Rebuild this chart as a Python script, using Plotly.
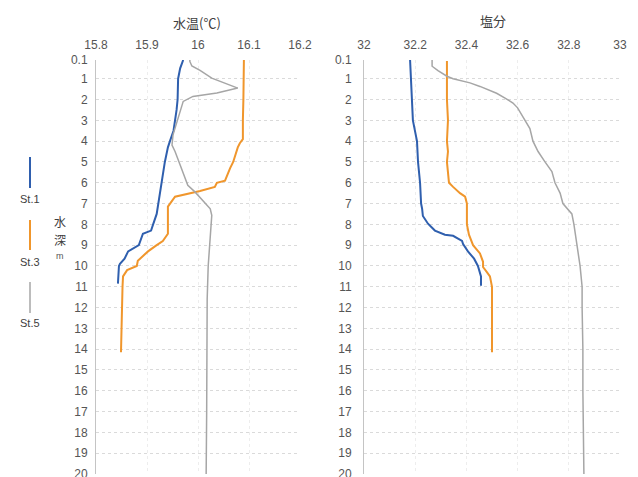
import plotly.graph_objects as go

# ---- depth profiles (m) ----
# Water temperature (deg C)
st1_temp_depth = [0.1, 0.5, 1, 2, 2.5, 3, 3.5, 4, 4.3, 5, 6, 7, 7.5, 8, 8.3, 8.45,
                  9, 9.3, 9.65, 9.9, 10, 10.85]
st1_temp = [15.971, 15.965, 15.961, 15.960, 15.958, 15.955, 15.952, 15.945, 15.941,
            15.935, 15.929, 15.922, 15.919, 15.912, 15.908, 15.892, 15.884, 15.863,
            15.856, 15.847, 15.845, 15.843]

st3_temp_depth = [0.1, 1, 2, 3, 3.9, 4.1, 4.3, 5, 5.3, 5.9, 6.0, 6.2, 6.4, 6.67, 6.8,
                  7.05, 7.15, 8.45, 8.8, 9.0, 9.3, 9.75, 10.0, 10.2, 10.5, 11, 12, 13, 14.15]
st3_temp = [16.090, 16.090, 16.089, 16.088, 16.088, 16.082, 16.078, 16.069, 16.063,
            16.053, 16.037, 16.033, 16.004, 15.955, 15.951, 15.945, 15.941, 15.941,
            15.931, 15.919, 15.902, 15.882, 15.880, 15.861, 15.853, 15.852, 15.851,
            15.849, 15.849]

st5_temp_depth = [0.1, 0.17, 0.39, 0.6, 0.97, 1.13, 1.32, 1.45, 1.69, 1.85, 2.09, 2.25,
                  2.98, 3.7, 4.19, 4.5, 5.15, 5.8, 6.12, 6.44, 6.9, 7.25, 7.57, 8.2,
                  9.3, 10, 11.6, 14, 17, 20]
st5_temp = [15.984, 15.984, 15.988, 16.004, 16.027, 16.043, 16.063, 16.078, 16.037,
            15.990, 15.971, 15.969, 15.959, 15.951, 15.949, 15.955, 15.965, 15.975,
            15.980, 15.994, 16.010, 16.024, 16.027, 16.025, 16.022, 16.020, 16.018,
            16.017, 16.017, 16.016]

# Salinity
st1_sal_depth = [0.1, 1, 2, 3, 4, 5, 6, 7, 7.25, 7.6, 7.97, 8.3, 8.5, 8.55, 8.8, 8.95,
                 9.3, 9.65, 10, 10.5, 10.95]
st1_sal = [32.180, 32.184, 32.188, 32.191, 32.207, 32.211, 32.219, 32.223, 32.227,
           32.230, 32.250, 32.277, 32.316, 32.348, 32.383, 32.387, 32.406, 32.430,
           32.445, 32.457, 32.457]

st3_sal_depth = [0.15, 1, 2, 3, 4, 4.5, 5, 5.5, 6, 6.2, 6.5, 6.67, 7, 8, 8.5, 9, 9.4,
                 9.8, 10.05, 10.3, 10.5, 11, 12, 13, 14.15]
st3_sal = [32.324, 32.324, 32.324, 32.328, 32.324, 32.328, 32.324, 32.328, 32.332,
           32.348, 32.375, 32.395, 32.402, 32.402, 32.410, 32.426, 32.453, 32.465,
           32.465, 32.480, 32.492, 32.500, 32.500, 32.500, 32.500]

st5_sal_depth = [0.1, 0.4, 0.61, 0.88, 1.0, 1.2, 1.37, 1.7, 1.93, 2.17, 2.4, 3.0, 3.4,
                 4.0, 4.5, 5.0, 5.46, 6.0, 6.5, 7.0, 7.25, 7.5, 8.0, 9, 10, 11, 12, 14,
                 16, 20]
st5_sal = [32.266, 32.266, 32.289, 32.324, 32.348, 32.414, 32.453, 32.518, 32.551,
           32.582, 32.600, 32.629, 32.648, 32.660, 32.680, 32.707, 32.734, 32.746,
           32.766, 32.777, 32.793, 32.812, 32.820, 32.832, 32.844, 32.852, 32.852,
           32.855, 32.855, 32.859]

stations = ["St.1", "St.3", "St.5"]
depth_ticks = [0.1] + list(range(1, 21))
depth_tick_text = ["0.1"] + [str(d) for d in range(1, 21)]
temp_ticks = [15.8, 15.9, 16.0, 16.1, 16.2]
temp_tick_text = ["15.8", "15.9", "16", "16.1", "16.2"]
sal_ticks = [32.0, 32.2, 32.4, 32.6, 32.8, 33.0]
sal_tick_text = ["32", "32.2", "32.4", "32.6", "32.8", "33"]

# ---- styling ----
W, H = 638, 477
M_T, M_B = 60, 3
PLOT_H = H - M_T - M_B
COLORS = {"St.1": "#2f5fae", "St.3": "#f0962c", "St.5": "#a6a6a6"}
WIDTHS = {"St.1": 2.0, "St.3": 2.0, "St.5": 1.5}
NUM_FONT = "Liberation Sans, Arial, Noto Sans CJK JP, sans-serif"
JP_FONT = "Noto Sans CJK JP, sans-serif"
TICK_COLOR = "#555555"


def px_x(px):
    return px / W


def px_y(py):
    return (H - M_B - py) / PLOT_H


fig = go.Figure()

temp_series = {"St.1": (st1_temp, st1_temp_depth),
               "St.3": (st3_temp, st3_temp_depth),
               "St.5": (st5_temp, st5_temp_depth)}
sal_series = {"St.1": (st1_sal, st1_sal_depth),
              "St.3": (st3_sal, st3_sal_depth),
              "St.5": (st5_sal, st5_sal_depth)}

for name in stations:
    xs, ys = temp_series[name]
    fig.add_trace(go.Scatter(x=xs, y=ys, mode="lines", name=name,
                             line=dict(color=COLORS[name], width=WIDTHS[name]),
                             xaxis="x", yaxis="y", showlegend=False))
for name in stations:
    xs, ys = sal_series[name]
    fig.add_trace(go.Scatter(x=xs, y=ys, mode="lines", name=name,
                             line=dict(color=COLORS[name], width=WIDTHS[name]),
                             xaxis="x2", yaxis="y2", showlegend=False))

common_x = dict(side="top", showline=False, zeroline=False, ticks="", automargin=False,
                showgrid=True, gridcolor="#ededed", griddash="dot", gridwidth=1,
                tickfont=dict(family=NUM_FONT, size=12, color=TICK_COLOR),
                ticklabelstandoff=8, ticklabeloverflow="allow")
common_y = dict(range=[20.001, 0.1], tickvals=depth_ticks, ticktext=depth_tick_text,
                showline=True, linecolor="#c4c4c4", linewidth=1, zeroline=False,
                ticks="", showgrid=True, gridcolor="#dadada", griddash="dot",
                gridwidth=1, automargin=False, ticklabeloverflow="allow",
                tickfont=dict(family=NUM_FONT, size=12, color=TICK_COLOR))

fig.update_layout(
    width=W, height=H,
    margin=dict(l=0, r=0, t=M_T, b=M_B, autoexpand=False),
    paper_bgcolor="white", plot_bgcolor="white",
    xaxis=dict(domain=[px_x(96), px_x(300)], range=[15.8, 16.2],
               tickvals=temp_ticks, ticktext=temp_tick_text, anchor="y", **common_x),
    yaxis=dict(domain=[0, 1], anchor="x", ticklabelstandoff=5, **common_y),
    xaxis2=dict(domain=[px_x(364), px_x(620)], range=[32.0, 33.0],
                tickvals=sal_ticks, ticktext=sal_tick_text, anchor="y2", **common_x),
    yaxis2=dict(domain=[0, 1], anchor="x2", ticklabelstandoff=9, **common_y),
)


def label(text, x, y, size, family=JP_FONT, color="#404040"):
    fig.add_annotation(text=text, x=px_x(x), y=px_y(y), xref="paper", yref="paper",
                       xanchor="center", yanchor="middle", showarrow=False,
                       font=dict(family=family, size=size, color=color))


# Panel titles
label("水温(℃)", 197, 22, 13)
label("塩分", 493, 20, 13)

# Depth axis label
label("水", 60, 222, 12)
label("深", 60, 239, 12)
label("m", 60, 256, 9, family=NUM_FONT, color="#555555")

# Station key: short vertical strokes with labels beneath
key_rows = [(157, 188, 199), (220, 250, 262), (282, 313, 323)]
for name, (y0, y1, yt) in zip(stations, key_rows):
    fig.add_shape(type="line", xref="paper", yref="paper",
                  x0=px_x(30), x1=px_x(30), y0=px_y(y0), y1=px_y(y1),
                  line=dict(color=COLORS[name], width=WIDTHS[name]))
    label(name, 30, yt, 11, family=NUM_FONT)

fig.write_html("out.html")
